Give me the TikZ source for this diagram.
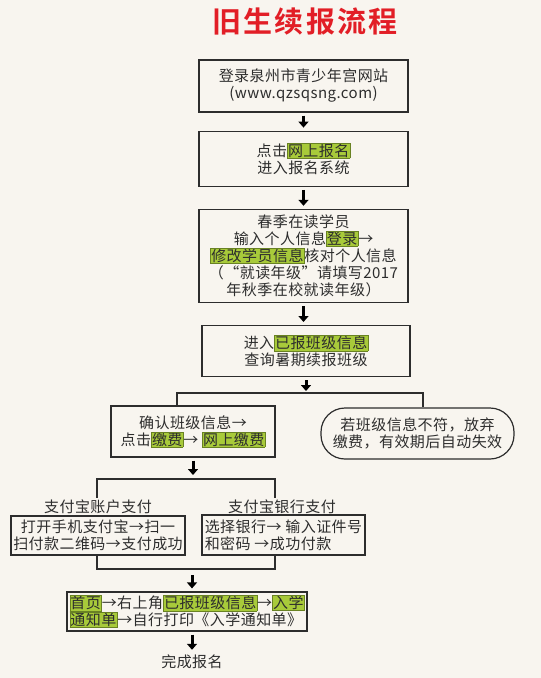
\documentclass[tikz,border=0pt]{standalone}
\usepackage{fontspec}
\usepackage{xcolor}
\usepackage{tikz}
\usetikzlibrary{arrows.meta, positioning, calc}

\newfontfamily\cjk[LetterSpace=3]{Noto Sans CJK SC}
\newfontfamily\cjktitle[LetterSpace=8]{Noto Sans CJK SC Bold}

\definecolor{bgcol}{RGB}{248,245,239}
\definecolor{inkcol}{RGB}{45,45,45}
\definecolor{hlfill}{RGB}{168,202,58}
\definecolor{hlline}{RGB}{105,130,35}
\definecolor{titlered}{RGB}{226,30,38}

\newcommand{\bodyfont}{\cjk\fontsize{15pt}{17pt}\selectfont\setlength{\lineskiplimit}{-8pt}}
\newcommand{\hilite}[1]{{\setlength{\fboxsep}{0.5pt}\setlength{\fboxrule}{0.4pt}\fcolorbox{hlline}{hlfill}{#1}}}

\begin{document}
\begin{tikzpicture}[x=1pt, y=-1pt, >=Stealth,
            txt/.style={font=\bodyfont, text=inkcol, inner sep=2pt},
            box/.style={txt, draw=inkcol, line width=1.2pt, rectangle, align=center},
            roundbox/.style={box, rounded corners=24pt},
            wire/.style={draw=inkcol, line width=1.4pt},
            down/.style={-{Triangle[length=6pt, width=10pt]}, line width=3pt, draw=black, shorten <=3pt, shorten >=3pt}]

            \fill[bgcol] (0,0) rectangle (541,678);
            \useasboundingbox (0,0) rectangle (541,678);

            \node[font=\cjktitle\fontsize{29pt}{31pt}\selectfont, text=titlered] (title) at (305,22) {旧生续报流程};

            % ===== 主流程 =====
            \node[box, minimum width=209pt, minimum height=52pt] (site) at (303.5,86)
                {登录泉州市青少年宫网站\\(www.qzsqsng.com)};
            \node[box, minimum width=209pt, minimum height=55pt, below=18pt of site] (signup)
                {点击\hilite{网上报名}\\进入报名系统};
            \node[box, minimum width=209pt, minimum height=93pt, below=22pt of signup] (login)
                {春季在读学员\\输入个人信息\hilite{登录}→\\\hilite{修改学员信息}核对个人信息\\（“就读年级”请填写2017\\年秋季在校就读年级）};
            \node[box, minimum width=208pt, minimum height=51pt, below=22pt of login, xshift=2.5pt] (query)
                {进入\hilite{已报班级信息}\\查询暑期续报班级};

            \draw[down] (site) -- (signup);
            \draw[down] (signup) -- (login);
            \draw[down] (login.south) -- (login.south |- query.north);

            % ===== 分支 =====
            \coordinate (forkL) at (177,393);
            \coordinate (forkR) at (423,393);
            \node[box, minimum width=164pt, minimum height=51pt] (pay) at (193,431.5)
                {确认班级信息→\\点击\hilite{缴费}→ \hilite{网上缴费}};
            \node[roundbox, minimum width=193pt, minimum height=51pt] (giveup) at (417.5,433.5)
                {若班级信息不符，放弃\\缴费，有效期后自动失效};

            \draw[down, shorten >=2pt] (query.south) -- (query.south |- forkL);
            \draw[wire] (pay.north -| forkL) |- (forkR) -- (giveup.north -| forkR);

            % ===== 两种支付方式 =====
            \coordinate (payL) at (97,479);
            \coordinate (payR) at (275,479);
            \node[txt] (acctlbl) at (98,507) {支付宝账户支付};
            \node[txt] (banklbl) at (282,507) {支付宝银行支付};
            \node[box, minimum width=174pt, minimum height=39pt] (acct) at (98,535.5)
                {打开手机支付宝→扫一\\扫付款二维码→支付成功};
            \node[box, align=left, minimum width=163pt, minimum height=40pt] (bank) at (283.5,535)
                {选择银行→ 输入证件号\\和密码 →成功付款};

            \draw[down, shorten >=4pt] (pay.south) -- (pay.south |- payL);
            \draw[wire] (acctlbl.north -| payL) |- (payR) -- (banklbl.north -| payR);

            \coordinate (joinL) at (97,569);
            \coordinate (joinR) at (275,569);
            \coordinate (joinM) at (192,569);
            \draw[wire] (acct.south -| joinL) |- (joinR) -- (bank.south -| joinR);

            % ===== 打印通知单 =====
            \node[box, align=left, minimum width=240pt, minimum height=39pt] (print) at (187,611.5)
                {\hilite{首页}→右上角\hilite{已报班级信息}→\hilite{入学}\\\hilite{通知单}→自行打印《入学通知单》};
            \node[txt] (done) at (192,662) {完成报名};

            \draw[down, shorten <=6pt] (joinM) -- (joinM |- print.north);
            \draw[down] (joinM |- print.south) -- (joinM |- done.north);
        \end{tikzpicture}
\end{document}
